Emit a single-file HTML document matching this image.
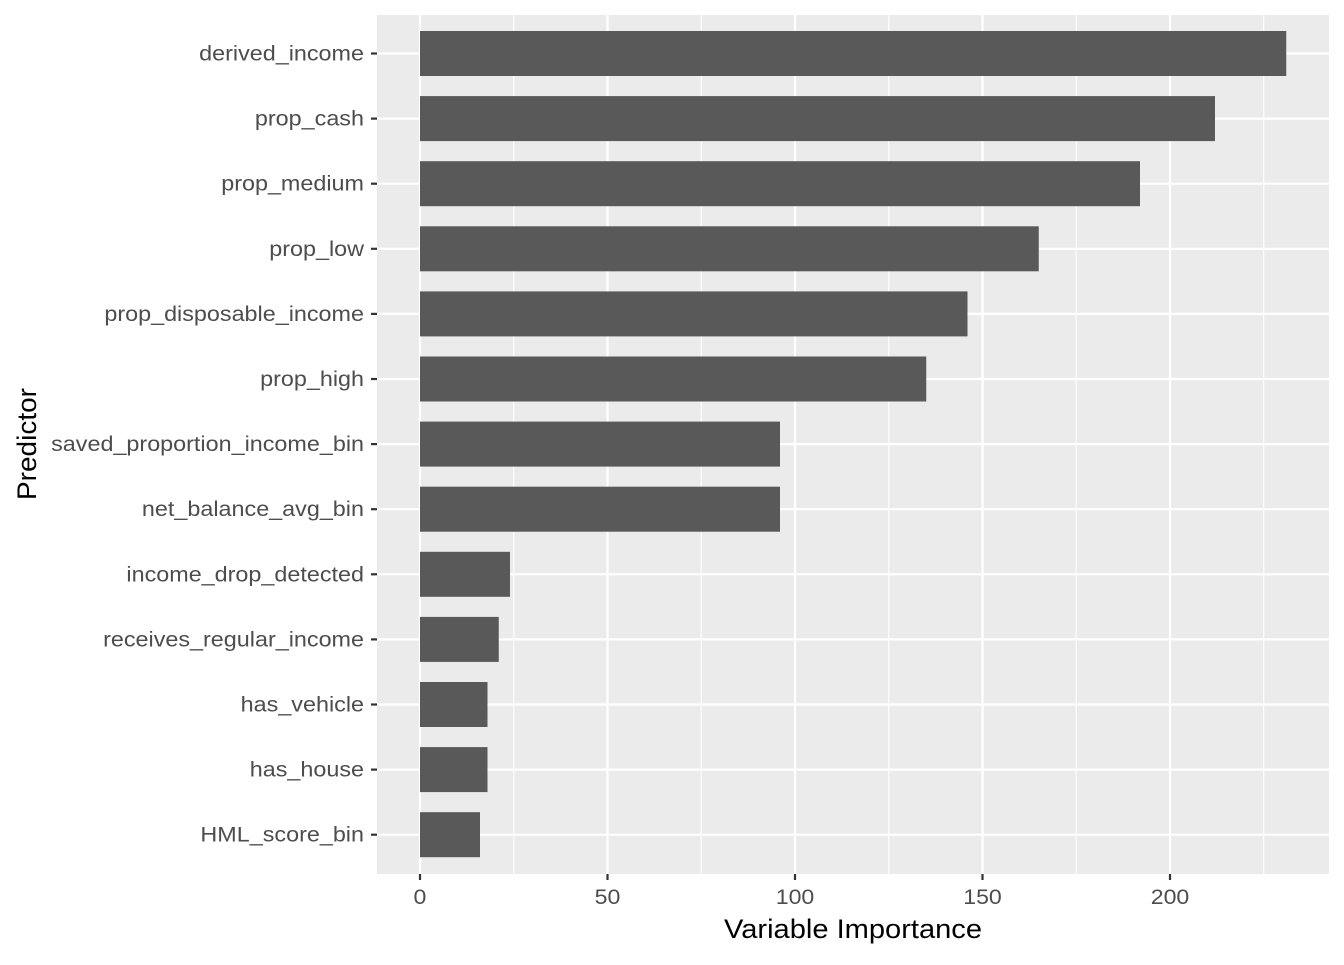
<!DOCTYPE html>
<html><head><meta charset="utf-8"><style>
html,body{margin:0;padding:0;background:#fff;}
svg text{font-family:"Liberation Sans",sans-serif;}
</style></head><body>
<svg id="chart" width="1344" height="960" xmlns="http://www.w3.org/2000/svg">
<rect x="377" y="15" width="952" height="859" fill="#ebebeb"/>
<g id="grid"></g><g id="bars"></g><g id="yaxis"></g><g id="xaxis"></g>
<text x="853" y="938" font-size="27" text-anchor="middle" fill="#000" textLength="258" lengthAdjust="spacingAndGlyphs">Variable Importance</text>
<text transform="translate(36,444) rotate(-90)" font-size="27" text-anchor="middle" fill="#000" textLength="112" lengthAdjust="spacingAndGlyphs">Predictor</text>
</svg>
<script>
const categories = ["derived_income","prop_cash","prop_medium","prop_low","prop_disposable_income","prop_high","saved_proportion_income_bin","net_balance_avg_bin","income_drop_detected","receives_regular_income","has_vehicle","has_house","HML_score_bin"];
const values = [231,212,192,165,146,135,96,96,24,21,18,18,16];
const xTicks = [0,50,100,150,200];
const xMinor = [25,75,125,175,225];
const NS="http://www.w3.org/2000/svg";
const x = v => 420 + v*3.75;
const y = i => 53.5 + i*65.1;
function mk(tag, attrs, parent){const e=document.createElementNS(NS,tag);for(const k in attrs)e.setAttribute(k,attrs[k]);parent.appendChild(e);return e;}
function stretch(t,f){const w=t.getComputedTextLength();t.setAttribute('textLength',w*f);t.setAttribute('lengthAdjust','spacingAndGlyphs');}
const grid=document.getElementById('grid'),bars=document.getElementById('bars'),ya=document.getElementById('yaxis'),xa=document.getElementById('xaxis');
xMinor.forEach(t=>{const l=mk('line',{x1:x(t),x2:x(t),y1:15,y2:874,stroke:'#fff','stroke-width':1.1},grid);

});
xTicks.forEach(t=>{const l=mk('line',{x1:x(t),x2:x(t),y1:15,y2:874,stroke:'#fff','stroke-width':2.2},grid);


const tk=mk('line',{x1:x(t),x2:x(t),y1:874,y2:880,stroke:'#333','stroke-width':2.2},xa);


const tx=mk('text',{x:x(t),y:904,'font-size':21,'text-anchor':'middle',fill:'#4d4d4d'},xa);tx.textContent=t;


stretch(tx,1.1);});
categories.forEach((c,i)=>{const l=mk('line',{x1:377,x2:1329,y1:y(i),y2:y(i),stroke:'#fff','stroke-width':2.2},grid);


const b=mk('rect',{x:x(0),y:y(i)-22.5,width:x(values[i])-x(0),height:45,fill:'#595959'},bars);


const tk=mk('line',{x1:371,x2:377,y1:y(i),y2:y(i),stroke:'#333','stroke-width':2.2},ya);


const tx=mk('text',{x:364,y:y(i)+7,'font-size':21,'text-anchor':'end',fill:'#4d4d4d'},ya);tx.textContent=c;


stretch(tx,1.112);});
</script>
</body></html>
